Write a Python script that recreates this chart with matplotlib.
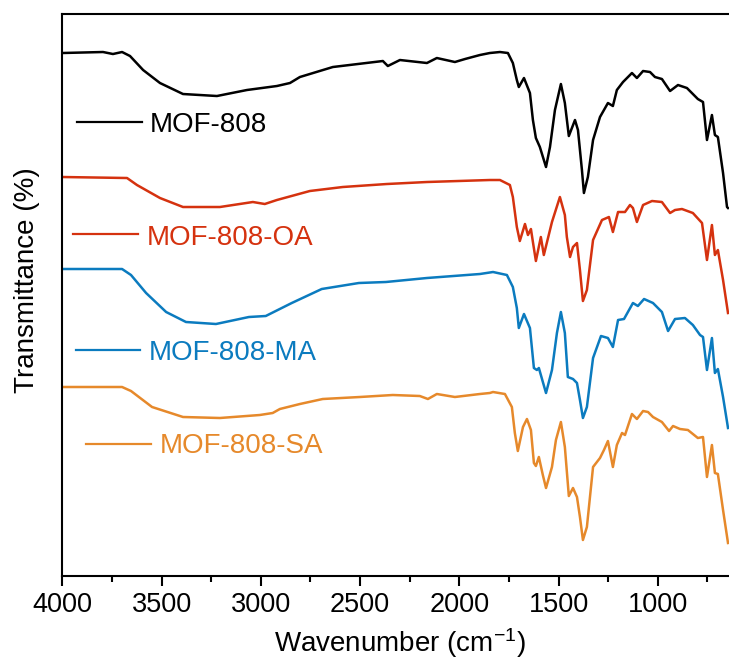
#!/usr/bin/env python3
"""Stacked FTIR spectra of MOF-808 and its acid-modified variants."""
import matplotlib
matplotlib.use("Agg")
import matplotlib.pyplot as plt
from matplotlib.ticker import MultipleLocator

# wavenumber (cm-1) / transmittance (a.u., already stacked)
mof808_wn = [4000, 3795, 3745, 3699, 3659, 3593, 3508, 3392, 3221, 3070, 2919,
             2853, 2803, 2637, 2385, 2360, 2299, 2163, 2113, 2022, 1971, 1896,
             1846, 1795, 1755, 1730, 1710, 1700, 1674, 1644, 1629, 1614, 1594,
             1563, 1543, 1518, 1488, 1468, 1448, 1417, 1402, 1382, 1372, 1352,
             1326, 1291, 1251, 1226, 1206, 1175, 1130, 1105, 1074, 1039, 1014,
             979, 938, 898, 853, 798, 772, 752, 727, 712, 697, 671, 651, 646]
mof808_t = [523, 524, 522, 524, 520, 506, 493, 482, 480, 486, 490,
            493, 499, 509, 515, 510, 516, 513, 518, 514, 517, 521,
            523, 524, 523, 513, 496, 489, 498, 483, 456, 438, 429,
            409, 429, 466, 492, 473, 440, 456, 446, 406, 383, 399,
            436, 459, 473, 470, 486, 494, 503, 498, 505, 504, 499,
            497, 485, 491, 488, 477, 474, 436, 461, 441, 439, 403, 369, 368]

oa_wn = [4000, 3674, 3624, 3508, 3392, 3206, 3040, 2980, 2919, 2753, 2587,
         2365, 2163, 1846, 1795, 1745, 1730, 1710, 1695, 1669, 1654, 1639,
         1629, 1614, 1589, 1574, 1533, 1493, 1468, 1458, 1442, 1427, 1407,
         1392, 1377, 1357, 1326, 1281, 1246, 1226, 1200, 1165, 1140, 1125,
         1105, 1074, 1029, 979, 938, 913, 878, 823, 777, 752, 727, 712, 697,
         671, 646]
oa_t = [399, 398, 391, 378, 369, 369, 374, 372, 376, 385, 389,
        392, 394, 396, 396, 391, 379, 349, 335, 352, 341, 347,
        334, 315, 339, 321, 354, 379, 361, 339, 319, 329, 333,
        306, 275, 286, 336, 356, 359, 344, 364, 364, 371, 368,
        354, 371, 375, 374, 363, 366, 367, 363, 353, 316, 351, 321, 326,
        296, 263]

ma_wn = [4000, 3699, 3654, 3578, 3477, 3377, 3226, 3060, 2975, 2844, 2693,
         2506, 2370, 2163, 1896, 1830, 1760, 1730, 1710, 1700, 1674, 1644,
         1624, 1609, 1599, 1563, 1533, 1508, 1488, 1468, 1453, 1427, 1407,
         1392, 1377, 1357, 1326, 1286, 1251, 1226, 1200, 1170, 1125, 1100,
         1069, 1024, 979, 948, 913, 863, 823, 787, 772, 752, 727, 712, 697,
         671, 646]
ma_t = [307, 307, 301, 283, 264, 254, 252, 259, 260, 273, 287,
        293, 294, 298, 302, 304, 301, 289, 268, 248, 262, 248,
        208, 206, 208, 183, 206, 243, 264, 243, 199, 197, 193,
        176, 158, 169, 218, 240, 238, 229, 256, 257, 273, 270,
        277, 273, 264, 245, 257, 258, 251, 241, 239, 206, 238, 203, 207,
        179, 148]

sa_wn = [4000, 3699, 3654, 3548, 3392, 3206, 3005, 2940, 2904, 2803, 2688,
         2501, 2335, 2199, 2158, 2113, 2022, 1896, 1846, 1830, 1770, 1735,
         1720, 1705, 1679, 1659, 1639, 1624, 1614, 1599, 1579, 1563, 1533,
         1513, 1488, 1468, 1448, 1427, 1407, 1392, 1377, 1357, 1326, 1291,
         1271, 1251, 1226, 1206, 1180, 1165, 1130, 1105, 1074, 1049, 1024,
         979, 943, 923, 888, 848, 798, 772, 752, 727, 712, 697, 671, 646]
sa_t = [189, 189, 185, 169, 159, 158, 161, 163, 167, 172, 177,
        179, 181, 180, 177, 182, 179, 182, 183, 184, 182, 169,
        143, 125, 149, 157, 146, 113, 110, 119, 101, 88, 109,
        136, 154, 129, 80, 88, 79, 59, 36, 49, 109, 118,
        126, 135, 109, 131, 143, 141, 162, 157, 165, 164, 159,
        154, 145, 150, 147, 146, 138, 139, 99, 131, 103, 102, 66, 33]

series_names = ["MOF-808", "MOF-808-OA", "MOF-808-MA", "MOF-808-SA"]
series_colors = ["#000000", "#d5320f", "#0b7bbf", "#e6892b"]

plt.rcParams["font.family"] = ["Liberation Sans", "DejaVu Sans"]
plt.rcParams["mathtext.fontset"] = "custom"
plt.rcParams["mathtext.rm"] = "Liberation Sans"
plt.rcParams["mathtext.default"] = "regular"


def main():
    fig = plt.figure(figsize=(7.29, 6.61), dpi=100)
    ax = fig.add_axes([0.0855, 0.1286, 0.9145, 0.8502])

    spectra = [(mof808_wn, mof808_t), (oa_wn, oa_t), (ma_wn, ma_t), (sa_wn, sa_t)]
    for (wn, t), c in zip(spectra, series_colors):
        ax.plot(wn, t, color=c, lw=1.8, solid_joinstyle="round")

    # Origin-style labels drawn beside each trace: line x-span, line y, text x, text baseline
    label_pos = [((0.022, 0.120), 0.808, 0.1315, 0.790),
                 ((0.016, 0.1135), 0.6085, 0.127, 0.589),
                 ((0.0205, 0.1165), 0.402, 0.130, 0.3843),
                 ((0.0355, 0.133), 0.235, 0.1465, 0.2189)]
    for name, c, (xs, ly, tx, ty) in zip(series_names, series_colors, label_pos):
        ax.plot(xs, [ly, ly], color=c, lw=1.6, transform=ax.transAxes)
        ax.text(tx, ty, name, color=c, fontsize=20, va="baseline", ha="left",
                transform=ax.transAxes)

    ax.set_xlim(4000, 641)
    ax.set_ylim(0, 562)
    ax.xaxis.set_major_locator(MultipleLocator(500))
    ax.xaxis.set_minor_locator(MultipleLocator(250))
    ax.set_yticks([])
    ax.tick_params(axis="x", which="major", direction="out", length=7.2,
                   width=1.5, labelsize=19.5, pad=4)
    ax.tick_params(axis="x", which="minor", direction="out", length=4.3, width=1.5)
    for s in ("left", "bottom", "top"):
        ax.spines[s].set_linewidth(1.5)
    ax.spines["right"].set_visible(False)

    ax.set_xlabel("Wavenumber (cm$^{-1}$)", fontsize=20)
    ax.set_ylabel("Transmittance (%)", fontsize=20)
    ax.xaxis.set_label_coords(0.507, -0.09)
    ax.yaxis.set_label_coords(-0.034, 0.527)

    fig.savefig("out.png", dpi=100)


if __name__ == "__main__":
    main()
